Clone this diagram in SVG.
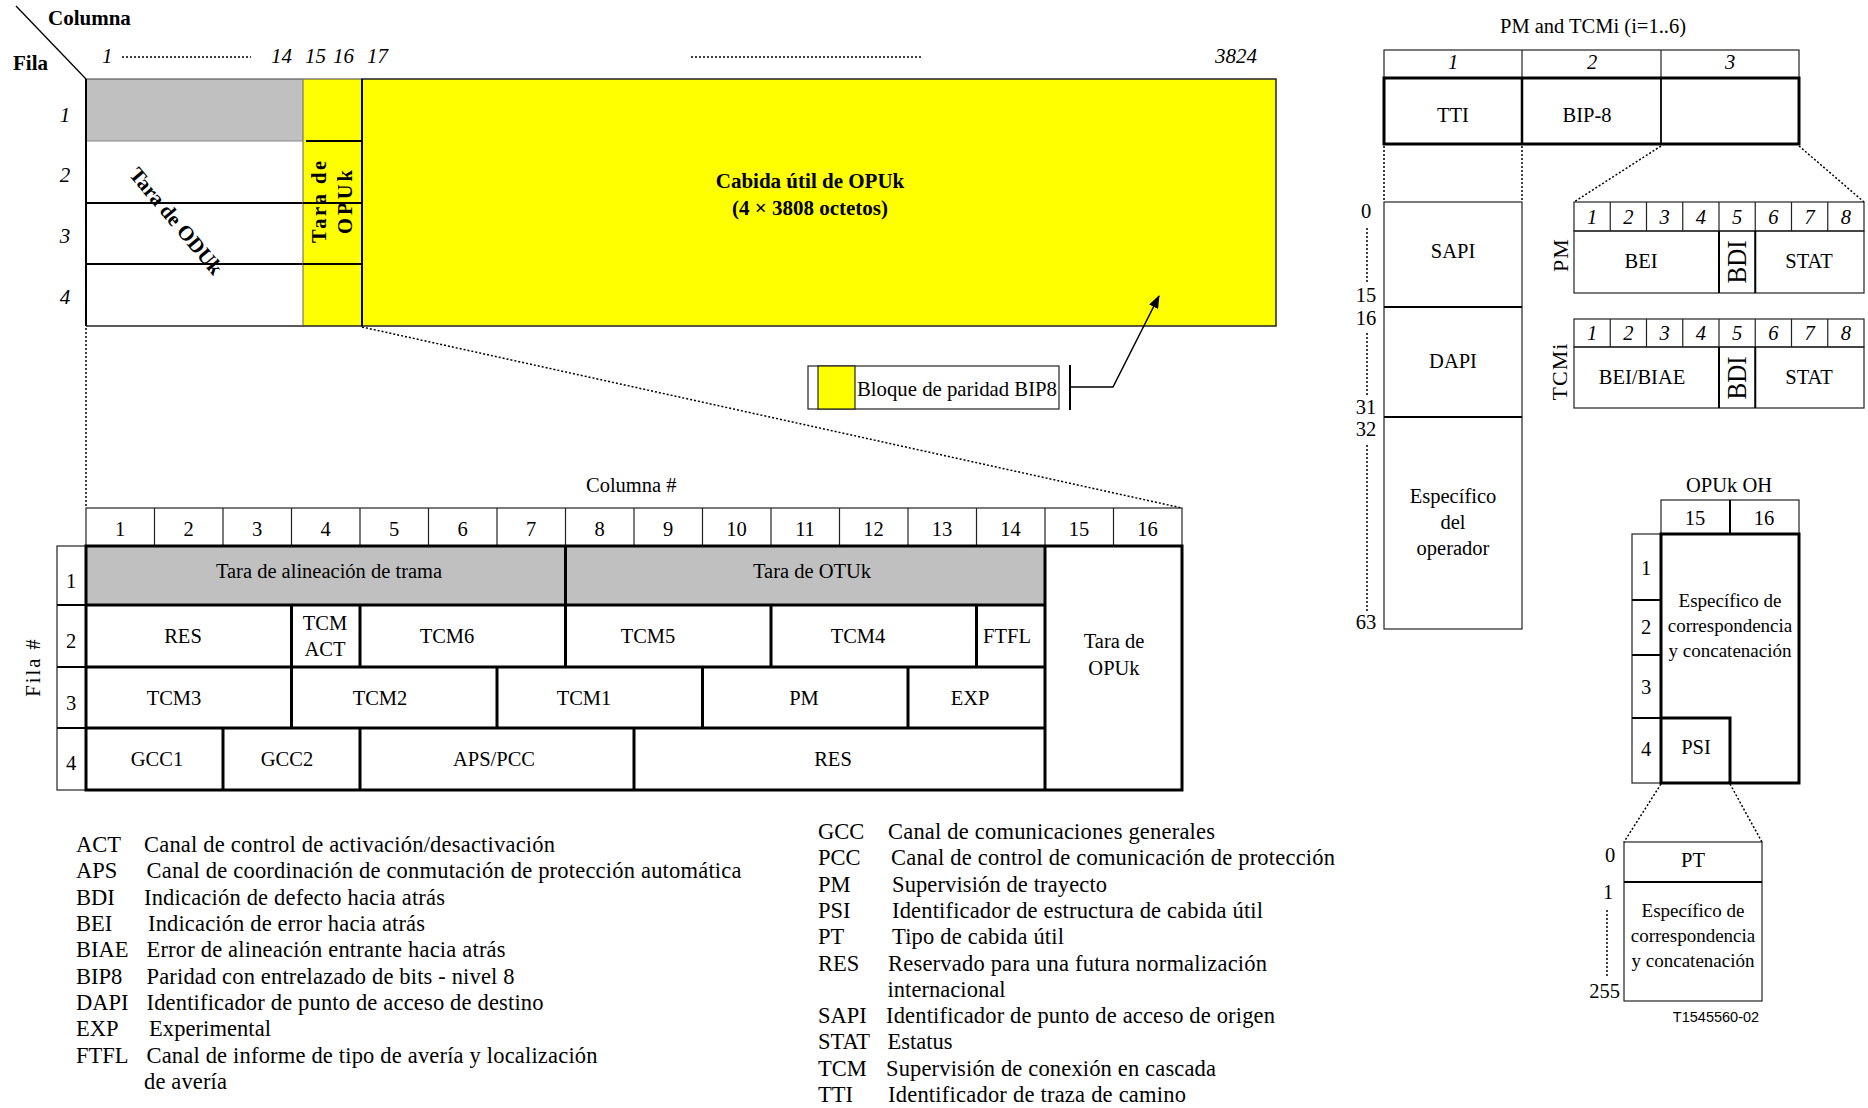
<svg xmlns="http://www.w3.org/2000/svg" width="1868" height="1108" viewBox="0 0 1868 1108">
<defs>
<style>
text{font-family:"Liberation Serif","Times New Roman",serif;fill:#000}
.b{font-weight:bold}
.i{font-style:italic}
.s19{font-size:19px}
.s20{font-size:20.5px}
.s21{font-size:21px}
.lg{font-size:22.5px}
.c{text-anchor:middle}
.e{text-anchor:end}
.thin{fill:none;stroke:#222;stroke-width:1.2}
.thick{fill:none;stroke:#000;stroke-width:3}
.med{fill:none;stroke:#000;stroke-width:2}
.dot{fill:none;stroke:#000;stroke-width:1.5;stroke-dasharray:2 2}
.yel{fill:#FFFF00}
.gry{fill:#C0C0C0}
.wht{fill:#FFFFFF}
</style>
<marker id="ah" markerWidth="13" markerHeight="10" refX="12" refY="5" orient="auto" markerUnits="userSpaceOnUse"><path d="M0,0 L13,5 L0,10 z" fill="#000"/></marker>
</defs>
<rect width="1868" height="1108" fill="#fff"/>

<!-- ===== Top frame ===== -->
<g id="frame-axes">
<line x1="16" y1="6" x2="86" y2="79" stroke="#000" stroke-width="1.3"/>
<text class="b s21" x="48" y="25">Columna</text>
<text class="b s21" x="13" y="70">Fila</text>
<text class="i s21" x="102" y="63">1</text>
<line class="dot" x1="122" y1="57" x2="251" y2="57"/>
<text class="i s21" x="271" y="63">14</text>
<text class="i s21" x="305" y="63">15</text>
<text class="i s21" x="333" y="63">16</text>
<text class="i s21" x="367" y="63">17</text>
<line class="dot" x1="691" y1="57" x2="923" y2="57"/>
<text class="i s21" x="1215" y="63">3824</text>
<text class="i s21 c" x="65" y="122">1</text>
<text class="i s21 c" x="65" y="182">2</text>
<text class="i s21 c" x="65" y="243">3</text>
<text class="i s21 c" x="65" y="304">4</text>
</g>

<g id="odu-overhead">
<rect class="gry" x="86" y="79" width="217" height="62"/>
<rect class="wht" x="86" y="141" width="217" height="185"/>
<line x1="86" y1="79" x2="303" y2="79" stroke="#444" stroke-width="1.2"/>
<line x1="86" y1="141" x2="303" y2="141" stroke="#888" stroke-width="1.2"/>
<line x1="86" y1="203" x2="303" y2="203" stroke="#000" stroke-width="2"/>
<line x1="86" y1="264" x2="303" y2="264" stroke="#000" stroke-width="2"/>
<line x1="86" y1="326" x2="303" y2="326" stroke="#222" stroke-width="1.5"/>
<line x1="86" y1="79" x2="86" y2="326" stroke="#000" stroke-width="2"/>
<text class="b s21 c" transform="translate(176,221) rotate(50)" dy="7">Tara de ODUk</text>
</g>

<g id="opu-overhead">
<rect class="yel" x="303" y="79" width="59" height="247"/>
<line x1="303" y1="79" x2="362" y2="79" stroke="#444" stroke-width="1.2"/>
<line x1="303" y1="79" x2="303" y2="326" stroke="#777" stroke-width="1.2"/>
<line x1="306" y1="141" x2="362" y2="141" stroke="#000" stroke-width="2"/>
<line x1="303" y1="203" x2="362" y2="203" stroke="#000" stroke-width="2"/>
<line x1="303" y1="264" x2="362" y2="264" stroke="#000" stroke-width="2"/>
<line x1="303" y1="326" x2="362" y2="326" stroke="#222" stroke-width="1.5"/>
<text class="b c" font-size="20.5" transform="translate(326,202) rotate(-90)" textLength="82" lengthAdjust="spacing">Tara de</text>
<text class="b c" font-size="20.5" transform="translate(352,202) rotate(-90)" textLength="64" lengthAdjust="spacing">OPUk</text>
</g>

<g id="opu-payload">
<rect class="yel" x="362" y="79" width="914" height="247" stroke="#222" stroke-width="1.5"/>
<line x1="362" y1="79" x2="362" y2="326" stroke="#000" stroke-width="2"/>
<text class="b s21 c" x="810" y="188">Cabida útil de OPUk</text>
<text class="b s21 c" x="810" y="215">(4 × 3808 octetos)</text>
</g>

<g id="bip8-legend">
<rect x="808" y="366" width="251" height="43" fill="#fff" stroke="#222" stroke-width="1.2"/>
<rect class="yel" x="818" y="366" width="37" height="43" stroke="#222" stroke-width="1.2"/>
<text class="s21" x="857" y="396" textLength="200" lengthAdjust="spacingAndGlyphs">Bloque de paridad BIP8</text>
<line x1="1070" y1="365" x2="1070" y2="410" stroke="#000" stroke-width="2"/>
</g>

<!-- ===== Connectors ===== -->
<g id="connectors">
<polyline points="1070,387 1113,387 1159,296" fill="none" stroke="#000" stroke-width="1.5" marker-end="url(#ah)"/>
<line class="dot" x1="86" y1="328" x2="86" y2="508"/>
<line class="dot" x1="362" y1="327" x2="1182" y2="508"/>
<line class="dot" x1="1384" y1="146" x2="1384" y2="202"/>
<line class="dot" x1="1522" y1="146" x2="1522" y2="202"/>
<line class="dot" x1="1661" y1="146" x2="1574" y2="202"/>
<line class="dot" x1="1799" y1="146" x2="1864" y2="202"/>
<line class="dot" x1="1661" y1="784" x2="1624" y2="842"/>
<line class="dot" x1="1730" y1="784" x2="1762" y2="842"/>
</g>

<!-- ===== OTUk overhead table ===== -->
<g id="otu-columns">
<text class="s20" x="586" y="492">Columna #</text>
<rect class="thin" x="86" y="508" width="1096" height="38"/>
<path class="thin" d="M154.5,508V546M223,508V546M291.5,508V546M360,508V546M428.5,508V546M497,508V546M565.5,508V546M634,508V546M702.5,508V546M771,508V546M839.5,508V546M908,508V546M976.5,508V546M1045,508V546M1113.5,508V546"/>
<g class="s20 c">
<text x="120" y="536">1</text><text x="188.5" y="536">2</text><text x="257" y="536">3</text><text x="325.5" y="536">4</text>
<text x="394" y="536">5</text><text x="462.5" y="536">6</text><text x="531" y="536">7</text><text x="599.5" y="536">8</text>
<text x="668" y="536">9</text><text x="736.5" y="536">10</text><text x="805" y="536">11</text><text x="873.5" y="536">12</text>
<text x="942" y="536">13</text><text x="1010.5" y="536">14</text><text x="1079" y="536">15</text><text x="1147.5" y="536">16</text>
</g>
</g>

<g id="otu-rows">
<text class="s20 c" transform="translate(40,667) rotate(-90)" letter-spacing="2">Fila #</text>
<rect class="thin" x="57" y="546" width="29" height="244"/>
<path d="M57,605H86M57,667H86M57,728H86" stroke="#000" stroke-width="2"/>
<g class="s20 c">
<text x="71" y="588">1</text><text x="71" y="648">2</text><text x="71" y="710">3</text><text x="71" y="770">4</text>
</g>
</g>

<g id="otu-cells">
<rect class="gry" x="86" y="546" width="959" height="59"/>
<rect class="thick" x="86" y="546" width="1096" height="244"/>
<path class="thick" d="M86,605H1045M86,667H1045M86,728H1045M1045,546V790M565.5,546V605M291.5,605V667M360,605V667M565.5,605V667M771,605V667M976.5,605V667M291.5,667V728M497,667V728M702.5,667V728M908,667V728M223,728V790M360,728V790M634,728V790"/>
<g class="s20 c">
<text x="329" y="578">Tara de alineación de trama</text>
<text x="812" y="578">Tara de OTUk</text>
<text x="183" y="643">RES</text>
<text x="325" y="630">TCM</text>
<text x="325" y="656">ACT</text>
<text x="447" y="643">TCM6</text>
<text x="648" y="643">TCM5</text>
<text x="858" y="643">TCM4</text>
<text x="1007" y="643">FTFL</text>
<text x="174" y="705">TCM3</text>
<text x="380" y="705">TCM2</text>
<text x="584" y="705">TCM1</text>
<text x="804" y="705">PM</text>
<text x="970" y="705">EXP</text>
<text x="157" y="766">GCC1</text>
<text x="287" y="766">GCC2</text>
<text x="494" y="766">APS/PCC</text>
<text x="833" y="766">RES</text>
<text x="1114" y="648">Tara de</text>
<text x="1114" y="675">OPUk</text>
</g>
</g>

<!-- ===== PM and TCMi ===== -->
<g id="pm-tcm-bytes">
<text class="s20 c" x="1593" y="33">PM and TCMi (i=1..6)</text>
<rect class="thin" x="1384" y="50" width="415" height="28"/>
<path class="thin" d="M1522,50V78M1661,50V78"/>
<text class="i s20 c" x="1453" y="69">1</text>
<text class="i s20 c" x="1592" y="69">2</text>
<text class="i s20 c" x="1730" y="69">3</text>
<rect class="thick" x="1384" y="78" width="415" height="66"/>
<path d="M1522,78V144" stroke="#000" stroke-width="2.5"/>
<path d="M1661,78V144" stroke="#000" stroke-width="1.8"/>
<text class="s20 c" x="1453" y="122">TTI</text>
<text class="s20 c" x="1587" y="122">BIP-8</text>
</g>

<g id="tti-structure">
<rect class="thin" x="1384" y="202" width="138" height="427"/>
<path d="M1384,307H1522M1384,417H1522" stroke="#000" stroke-width="2"/>
<text class="s20 c" x="1453" y="258">SAPI</text>
<text class="s20 c" x="1453" y="368">DAPI</text>
<text class="s20 c" x="1453" y="503">Específico</text>
<text class="s20 c" x="1453" y="529">del</text>
<text class="s20 c" x="1453" y="555">operador</text>
<g class="s20 c">
<text x="1366" y="218">0</text><text x="1366" y="302">15</text><text x="1366" y="325">16</text>
<text x="1366" y="414">31</text><text x="1366" y="436">32</text><text x="1366" y="629">63</text>
</g>
<path class="dot" d="M1367,228V284M1367,333V397M1367,445V612"/>
</g>

<g id="pm-bits">
<rect class="thin" x="1574" y="202" width="290" height="29"/>
<path class="thin" d="M1610.25,202V231M1646.5,202V231M1682.75,202V231M1719,202V231M1755.25,202V231M1791.5,202V231M1827.75,202V231"/>
<g class="i s20 c">
<text x="1592" y="224">1</text><text x="1628.4" y="224">2</text><text x="1664.6" y="224">3</text><text x="1700.9" y="224">4</text>
<text x="1737.1" y="224">5</text><text x="1773.4" y="224">6</text><text x="1809.6" y="224">7</text><text x="1845.9" y="224">8</text>
</g>
<rect class="thin" x="1574" y="231" width="290" height="62"/>
<path d="M1719,231V293M1755.25,231V293" stroke="#000" stroke-width="2"/>
<text class="s20 c" x="1641" y="268">BEI</text>
<text class="c" font-size="27" transform="translate(1746,262) rotate(-90)" textLength="43" lengthAdjust="spacingAndGlyphs">BDI</text>
<text class="s20 c" x="1809" y="268">STAT</text>
<text class="c" font-size="22" transform="translate(1568,255) rotate(-90)" letter-spacing="1">PM</text>
</g>

<g id="tcmi-bits">
<rect class="thin" x="1574" y="319" width="290" height="28"/>
<path class="thin" d="M1610.25,319V347M1646.5,319V347M1682.75,319V347M1719,319V347M1755.25,319V347M1791.5,319V347M1827.75,319V347"/>
<g class="i s20 c">
<text x="1592" y="340">1</text><text x="1628.4" y="340">2</text><text x="1664.6" y="340">3</text><text x="1700.9" y="340">4</text>
<text x="1737.1" y="340">5</text><text x="1773.4" y="340">6</text><text x="1809.6" y="340">7</text><text x="1845.9" y="340">8</text>
</g>
<rect class="thin" x="1574" y="347" width="290" height="61"/>
<path d="M1719,347V408M1755.25,347V408" stroke="#000" stroke-width="2"/>
<text class="s20 c" x="1642" y="384">BEI/BIAE</text>
<text class="c" font-size="27" transform="translate(1746,378) rotate(-90)" textLength="43" lengthAdjust="spacingAndGlyphs">BDI</text>
<text class="s20 c" x="1809" y="384">STAT</text>
<text class="c" font-size="22" transform="translate(1567,372) rotate(-90)" textLength="57" lengthAdjust="spacing">TCMi</text>
</g>

<!-- ===== OPUk OH ===== -->
<g id="opuk-oh">
<text class="s20 c" x="1729" y="492">OPUk OH</text>
<rect class="thin" x="1661" y="500" width="138" height="34"/>
<path d="M1730,500V534" stroke="#000" stroke-width="2"/>
<text class="s20 c" x="1695" y="525">15</text>
<text class="s20 c" x="1764" y="525">16</text>
<rect class="thin" x="1632" y="534" width="29" height="249"/>
<path d="M1632,600H1661M1632,655H1661M1632,718H1661" stroke="#000" stroke-width="1.8"/>
<g class="s20 c">
<text x="1646" y="575">1</text><text x="1646" y="634">2</text><text x="1646" y="694">3</text><text x="1646" y="756">4</text>
</g>
<rect class="thick" x="1661" y="534" width="138" height="249"/>
<path class="thick" d="M1661,718H1730V783"/>
<text class="s19 c" x="1730" y="607">Específico de</text>
<text class="s19 c" x="1730" y="632">correspondencia</text>
<text class="s19 c" x="1730" y="657">y concatenación</text>
<text class="s20 c" x="1696" y="754">PSI</text>
</g>

<g id="psi-structure">
<rect class="thin" x="1624" y="842" width="138" height="159"/>
<path d="M1624,882H1762" stroke="#000" stroke-width="2"/>
<text class="s20 c" x="1693" y="867">PT</text>
<text class="s19 c" x="1693" y="917">Específico de</text>
<text class="s19 c" x="1693" y="942">correspondencia</text>
<text class="s19 c" x="1693" y="967">y concatenación</text>
<text class="s20 c" x="1610" y="862">0</text>
<text class="s20 c" x="1608" y="899">1</text>
<path class="dot" d="M1607,910V978"/>
<text class="s20 e" x="1620" y="998">255</text>
<text x="1716" y="1022" text-anchor="middle" style="font-family:'Liberation Sans',Arial,sans-serif;font-size:14.5px">T1545560-02</text>
</g>

<!-- ===== Legend ===== -->
<g id="legend-left" class="lg">
<text x="76" y="852">ACT</text><text x="144" y="852" textLength="411" lengthAdjust="spacing">Canal de control de activación/desactivación</text>
<text x="76" y="878.3">APS</text><text x="146.5" y="878.3" textLength="595" lengthAdjust="spacing">Canal de coordinación de conmutación de protección automática</text>
<text x="76" y="904.7">BDI</text><text x="144" y="904.7" textLength="301" lengthAdjust="spacing">Indicación de defecto hacia atrás</text>
<text x="76" y="931">BEI</text><text x="148" y="931" textLength="277" lengthAdjust="spacing">Indicación de error hacia atrás</text>
<text x="76" y="957.3">BIAE</text><text x="146.5" y="957.3" textLength="359" lengthAdjust="spacing">Error de alineación entrante hacia atrás</text>
<text x="76" y="983.7">BIP8</text><text x="146.5" y="983.7" textLength="368" lengthAdjust="spacing">Paridad con entrelazado de bits - nivel 8</text>
<text x="76" y="1010">DAPI</text><text x="146.5" y="1010" textLength="397" lengthAdjust="spacing">Identificador de punto de acceso de destino</text>
<text x="76" y="1036.3">EXP</text><text x="149" y="1036.3" textLength="122" lengthAdjust="spacing">Experimental</text>
<text x="76" y="1062.7">FTFL</text><text x="146.5" y="1062.7" textLength="451" lengthAdjust="spacing">Canal de informe de tipo de avería y localización</text>
<text x="144" y="1089" textLength="83" lengthAdjust="spacing">de avería</text>
</g>

<g id="legend-right" class="lg">
<text x="818" y="839">GCC</text><text x="888" y="839" textLength="327" lengthAdjust="spacing">Canal de comunicaciones generales</text>
<text x="818" y="865.3">PCC</text><text x="891" y="865.3" textLength="444" lengthAdjust="spacing">Canal de control de comunicación de protección</text>
<text x="818" y="891.6">PM</text><text x="892" y="891.6" textLength="215" lengthAdjust="spacing">Supervisión de trayecto</text>
<text x="818" y="917.9">PSI</text><text x="892" y="917.9" textLength="371" lengthAdjust="spacing">Identificador de estructura de cabida útil</text>
<text x="818" y="944.2">PT</text><text x="892" y="944.2" textLength="172" lengthAdjust="spacing">Tipo de cabida útil</text>
<text x="818" y="970.5">RES</text><text x="888" y="970.5" textLength="379" lengthAdjust="spacing">Reservado para una futura normalización</text>
<text x="887.5" y="996.8" textLength="118" lengthAdjust="spacing">internacional</text>
<text x="818" y="1023.1">SAPI</text><text x="886" y="1023.1" textLength="389" lengthAdjust="spacing">Identificador de punto de acceso de origen</text>
<text x="818" y="1049.4">STAT</text><text x="887.5" y="1049.4" textLength="65" lengthAdjust="spacing">Estatus</text>
<text x="818" y="1075.7">TCM</text><text x="886" y="1075.7" textLength="330" lengthAdjust="spacing">Supervisión de conexión en cascada</text>
<text x="818" y="1102">TTI</text><text x="888" y="1102" textLength="298" lengthAdjust="spacing">Identificador de traza de camino</text>
</g>
</svg>
